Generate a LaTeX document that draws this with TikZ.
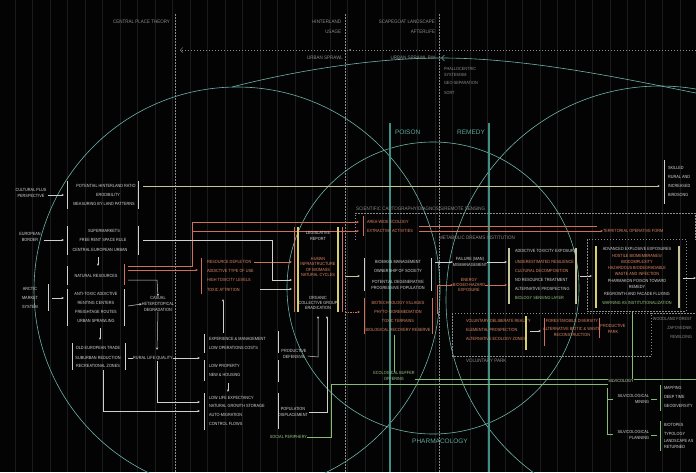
\documentclass[tikz,border=0pt]{standalone}
\usepackage{fontspec}
\setmainfont{Liberation Sans}
\newfontfamily\narrowf[FakeStretch=0.85]{Liberation Sans}
\newfontfamily\labf[FakeStretch=0.9]{Liberation Sans}
\usetikzlibrary{arrows.meta}
\definecolor{bgc}{HTML}{030303}
\definecolor{gridc}{HTML}{1B1B1B}
\definecolor{circc}{HTML}{6DB3AA}
\definecolor{poic}{HTML}{3F8F84}
\definecolor{poit}{HTML}{5FA89C}
\definecolor{wtx}{HTML}{D6D6D6}
\definecolor{wln}{HTML}{CFCFCF}
\definecolor{otx}{HTML}{E08866}
\definecolor{orgl}{HTML}{D0705A}
\definecolor{gtx}{HTML}{98C985}
\definecolor{grnl}{HTML}{86BC72}
\definecolor{gryc}{HTML}{8C8C8C}
\definecolor{khac}{HTML}{C8C49A}
\definecolor{ylwc}{HTML}{D8CF70}
\begin{document}
\begin{tikzpicture}[x=1pt,y=-1pt,
  tx/.style={inner sep=0pt,outer sep=0pt,font=\narrowf\fontsize{4.5}{5.3}\selectfont,text=wtx,align=center},
  txo/.style={tx,text=otx},
  txg/.style={tx,text=gtx},
  txy/.style={tx,text=gryc},
  lab/.style={inner sep=0pt,outer sep=0pt,font=\labf\fontsize{5}{6}\selectfont,text=gryc,align=center},
  big/.style={inner sep=0pt,outer sep=0pt,font=\fontsize{6.5}{7}\selectfont,text=poit},
  wl/.style={line width=0.5pt,draw=wln},
  ol/.style={line width=0.5pt,draw=orgl},
  gl/.style={line width=0.6pt,draw=grnl},
  kl/.style={line width=0.6pt,draw=khac},
  ar/.style={-{Stealth[length=2.6pt,width=2.2pt]}},
  wbar/.style={line width=0.9pt,draw=wln},
  obar/.style={line width=0.9pt,draw=orgl},
  ybar/.style={line width=1.1pt,draw=ylwc},
  kbar/.style={line width=1.1pt,draw=khac},
  gbar/.style={line width=0.7pt,draw=grnl},
  dsh/.style={line width=0.5pt,draw=gryc,dash pattern=on 1.5pt off 1.5pt},
  circ/.style={line width=0.6pt,draw=circc},
]
\fill[bgc] (0,0) rectangle (696,472);
\useasboundingbox (0,0) rectangle (696,472);
\foreach \i in {0,...,39} \draw[gridc,line width=0.4pt] ({15+17.5*\i},0) -- ({15+17.5*\i},472);

% dashed verticals
\draw[dsh] (175,14) -- (175,472);
\draw[dsh] (345,14) -- (345,472);
\draw[dsh] (439,14) -- (439,472);

% top labels
\node[lab,anchor=east] (cpt) at (170,22) {CENTRAL PLACE THEORY};
\node[lab,anchor=east] (hin) at (341,22) {HINTERLAND};
\node[lab,anchor=east] (usg) at (341,32) {USAGE};
\node[lab,anchor=east] (scl) at (435,22) {SCAPEGOAT LANDSCAPE};
\node[lab,anchor=east] (aft) at (435,32) {AFTERLIFE};
\coordinate (dL) at (180,50); \coordinate (dR) at (696,50);
\draw[dsh,-{Straight Barb[length=2.5pt,width=5pt]}] (dR) -- (dL);
\fill[gryc] (350,50) circle (1pt);
\node[lab,anchor=east] (us1) at (343,58) {URBAN SPRAWL};
\node[lab,anchor=east] (us2) at (435,58) {URBAN SPRAWL BW};
\node[tx,anchor=west,align=left,text=gryc] (phal) at (444,72) {PHALLOCENTRIC\\SYSTEMISM};
\node[tx,anchor=west,text=gryc] (geo) at (444,83) {GEO-SEPARATION};
\node[tx,anchor=west,text=gryc] (sort) at (444,93) {SORT};

% circles and arcs
\draw[circ] (237,290) circle (203pt);
\draw[circ] (433,288) circle (146pt);
\draw[circ] (660,300) circle (214pt);
\coordinate (apex) at (441,58);
\coordinate (arcL) at (232,87);
\coordinate (arcR) at (696,93);
\draw[circ] (apex) .. controls (370,58) and (290,72) .. (arcL);
\draw[circ,-{Straight Barb[length=3pt,width=6pt]}] (arcR) .. controls (630,80) and (530,58) .. (apex);

% poison / remedy
\coordinate (pt) at (390,123); \coordinate (pb) at (390,472);
\draw[poic,line width=1.2pt] (pt) -- (pb);
\node[big,anchor=west] (poison) at (395,132) {POISON};
\coordinate (rt) at (489,123); \coordinate (rb) at (489,472);
\draw[poic,line width=1.2pt] (rt) -- (rb);
\node[big,anchor=east] (remedy) at (485,132) {REMEDY};
\node[big] (pharm) at (440,441) {PHARMACOLOGY};

% khaki main line
\coordinate (k0) at (143,186); \coordinate (k1) at (660,186);
\draw[kl,ar] (k0) -- (k1);
\draw[wbar] (664,160) -- (664,204);
\node[tx,anchor=west] (rb1) at (668,168) {SKILLED};
\node[tx,anchor=west] (rb2) at (668,177) {RURAL AND};
\node[tx,anchor=west] (rb3) at (668,186) {INCREASED};
\node[tx,anchor=west] (rb4) at (668,195) {BIRDSONG};

% ---- L1
\node[tx] (cpp) at (31,193) {CULTURAL PLUS\\PERSPECTIVE};
\coordinate (l1in) at (64,195);
\draw[wl,ar] (cpp.east) ++(2,2) -- (l1in);
\draw[wbar] (67,181) -- (67,209);
\draw[wbar] (138,181) -- (138,209);
\node[tx] (l1a) at (106,186) {POTENTIAL HINTERLAND RATIO};
\node[tx] (l1b) at (108,195) {ERODIBILITY};
\node[tx] (l1c) at (104,204) {MEASURING BY LAND PATTERNS};

% ---- L2
\node[tx] (eub) at (30,237) {EUROPEAN\\BORDER};
\coordinate (l2in) at (64,240);
\draw[wl,ar] (eub.east) ++(3,3) -- (l2in);
\draw[wbar] (67,226) -- (67,255);
\draw[wbar] (138,226) -- (138,255);
\node[tx] (l2a) at (104,231) {SUPERMARKETS};
\node[tx] (l2b) at (103,240) {FREE RENT SPACE RULE};
\node[tx] (l2c) at (100,250) {CENTRAL EUROPEAN URBAN};
\coordinate (l2d) at (98,257); \coordinate (l3u) at (98,266);
\draw[wl,ar] (l2d) -- (l3u);

% ---- L3
\node[tx] (ams) at (30,298) {ARCTIC\\[3.5pt]MARKET\\[3.5pt]SYSTEM};
\draw[wl] (48,284) -- (48,311);
\coordinate (amsa) at (52,298); \coordinate (l3in) at (64,298);
\draw[wl,ar] (amsa) -- (l3in);
\draw[wbar] (67,266) -- (67,285);
\draw[wbar] (67,289) -- (67,326);
\draw[obar] (124,264) -- (124,285);
\draw[wbar] (124,289) -- (124,326);
\node[tx] (l3a) at (96,276) {NATURAL RESOURCES};
\node[tx] (l3b) at (96,294) {ANTI-TOXIC ADDICTIVE};
\node[tx] (l3c) at (96,303) {RENTING CENTERS};
\node[tx] (l3d) at (96,312) {FREIGHTAGE ROUTES};
\node[tx] (l3e) at (96,321) {URBAN SPRAWLING};
\node[tx] (cas) at (158,304) {CASUAL\\[0.8pt]HETEROTOPICAL\\[0.8pt]DEGRADATION};
\draw[wl,ar] (128,280) -- (157,280) -- (cas.north);
\draw[wl,ar] (128,306) -- (cas.west);
\coordinate (casd) at (157,350);
\draw[wl,ar] (cas.south) -- (casd);
\coordinate (l3d1) at (100,328); \coordinate (l4u) at (100,340);
\draw[wl,ar] (l3d1) -- (l4u);

% ---- L4
\draw[wbar] (72,343) -- (72,370);
\draw[wbar] (125,343) -- (125,370);
\node[tx] (l4a) at (98,348) {OLD EUROPEAN TRADE};
\node[tx] (l4b) at (98,358) {SUBURBAN REDUCTION};
\node[tx] (l4c) at (98,366) {RECREATIONAL ZONES};
\node[tx] (rlq) at (153,358) {RURAL LIFE QUALITY};
\coordinate (m1in) at (200,358);
\draw[wl] (128,358) -- (rlq.west);
\draw[wl,ar] (rlq.east) -- (m1in);
\coordinate (m1in2) at (200,402); \coordinate (m1in3) at (200,411);
\draw[wl,ar] (157,361) -- (157,402) -- (m1in2);
\draw[wl,ar] (103,370) -- (103,411) -- (m1in3);

% ---- M1
\draw[wbar] (204,334) -- (204,353);
\draw[wbar] (204,360) -- (204,381);
\draw[wbar] (204,393) -- (204,430);
\draw[wbar] (278,331) -- (278,353);
\draw[wbar] (278,360) -- (278,382);
\draw[wbar] (278,393) -- (278,429);
\node[tx,anchor=west] (m1a) at (209,339) {EXPERIENCE \& MANAGEMENT};
\node[tx,anchor=west] (m1b) at (209,348) {LOW OPERATIONS COSTS};
\node[tx,anchor=west] (m1c) at (209,366) {LOW PROPERTY};
\node[tx,anchor=west] (m1d) at (209,375) {NEW \& HOUSING};
\node[tx,anchor=west] (m1e) at (209,398) {LOW LIFE EXPECTANCY};
\node[tx,anchor=west] (m1f) at (209,406) {NATURAL GROWTH STORAGE};
\node[tx,anchor=west] (m1g) at (209,415) {AUTO-MIGRATION};
\node[tx,anchor=west] (m1h) at (209,424) {CONTROL FLOWS};
\coordinate (m1up0) at (223,333); \coordinate (m1up1) at (223,299);
\draw[wl,ar] (m1up0) -- (m1up1);
\coordinate (m1dn0) at (228,383); \coordinate (m1dn1) at (228,392);
\draw[wl,ar] (m1dn0) -- (m1dn1);

% ---- M2 (orange)
\draw[obar] (201,258) -- (201,294);
\node[txo,anchor=west] (m2a) at (207,262) {RESOURCE DEPLETION};
\node[txo,anchor=west] (m2b) at (207,271) {ADDICTIVE TYPE OF USE};
\node[txo,anchor=west] (m2c) at (207,280) {HIGH TOXICITY LEVELS};
\node[txo,anchor=west] (m2d) at (207,290) {TOXIC ATTRITION};
\coordinate (m2in) at (198,270);
\draw[ol,ar] (128,270) -- (m2in);
\coordinate (areaA) at (359,222); \coordinate (areaB) at (359,231);
\draw[ol,ar] (128,266) -- (192,266) -- (192,222) -- (areaA);
\draw[ol,ar] (192,231) -- (areaB);
\coordinate (dbL1) at (292,262); \coordinate (dbL2) at (292,289); \coordinate (dbL3) at (292,280);
\draw[ol,ar] (m2a.east) ++(3,0) -- (dbL1);
\draw[wl,ar] (260,289) -- (dbL2);
\draw[wl,ar] (143,240) -- (272,240) -- (272,280) -- (dbL3);

% ---- double bars block
\draw[obar] (294,227) -- (294,312);
\draw[ybar] (298,227) -- (298,312);
\draw[ybar] (338,227) -- (338,312);
\draw[obar] (342,227) -- (342,312);
\node[tx] (leg) at (318,236) {LEGISLATIVE\\REPORT};
\node[txo] (hum) at (318,267) {HUMAN\\INFRASTRUCTURE\\OF BIOMASS\\NATURAL CYCLES};
\node[tx] (org) at (318,303) {ORGANIC\\COLLECTIVE GROUP\\ERADICATION};
\node[tx] (prd) at (294,354) {PRODUCTIVE\\DEFENSIVE};
\node[tx] (pop) at (293,412) {POPULATION\\DISPLACEMENT};
\coordinate (orgb1) at (318,316); \coordinate (orgb2) at (327,316);
\draw[wl,ar] (prd.east) ++(1,2) -- (318,357) -- (orgb1);
\draw[wl,ar] (pop.east) ++(1,0) -- (327,412) -- (orgb2);
\coordinate (p1in) at (360,276); \coordinate (p2in) at (360,312);
\draw[kl,ar] (345,276) -- (p1in);
\draw[ol,ar,dash pattern=on 1.5pt off 1pt] (345,312) -- (p2in);

% ---- scientific cartography box
\draw[dsh] (355,240) -- (355,213) -- (695,213) -- (695,240);
\node[lab,anchor=west] (sci) at (356,209) {SCIENTIFIC CARTOGRAPHY/DIAGNOSIS/REMOTE SENSING};
\draw[obar] (363,216) -- (363,236);
\node[txo,anchor=west] (ar1) at (367,222) {AREA-WIDE ECOLOGY};
\node[txo,anchor=west] (ar2) at (367,231) {EXTRACTIVE ACTIVITIES};
\node[txo,anchor=west] (ter) at (603,231) {TERRITORIAL OPERATIVE FORM};
\draw[ol] (419,226) -- (597,226);
\draw[ol,ar] (419,231) -- (ter.west);
\node[lab] (met) at (477,238) {METABOLIC DREAMS INSTITUTION};

% ---- P1 / P2
\draw[wbar] (364,258) -- (364,291);
\draw[wbar] (431,258) -- (431,291);
\node[tx] (p1a) at (398,262) {BIOMASS MANAGEMENT};
\node[tx] (p1b) at (398,271) {OWNERSHIP OF SOCIETY};
\node[tx] (p1c) at (398,285) {POTENTIAL DEGENERATIVE\\PROGRESSIVE POPULATION};
\draw[obar] (364,298) -- (364,334);
\draw[obar] (432,298) -- (432,334);
\node[txo] (p2a) at (398,303) {BIOTECHNOLOGY VILLAGES};
\node[txo] (p2b) at (398,312) {PHYTO-BIOREMEDIATION};
\node[txo] (p2c) at (398,321) {TOXIC TERRAINS};
\node[txo] (p2d) at (398,330) {BIOLOGICAL RECOVERY RESERVE};
\node[tx] (fai) at (470,262) {FAILURE (MAN)\\MISMANAGEMENT};
\node[txo] (ene) at (469,285) {ENERGY\\BIOGEO-HAZARD\\EXPOSURE};
\coordinate (q1in1) at (507,262); \coordinate (q1in2) at (507,285);
\draw[wl,ar] (435,262) -- (fai.west);
\draw[ol,ar] (437,314) -- (437,285) -- (ene.west);
\draw[wl,ar] (fai.east) -- (q1in1);
\draw[ol,ar] (ene.east) -- (q1in2);

% ---- Q1
\draw[kbar] (509,248) -- (509,304);
\draw[kbar] (576,248) -- (576,304);
\node[tx,anchor=west] (q1a) at (515,251) {ADDICTIVE TOXICITY EXPOSURE};
\node[txo,anchor=west] (q1b) at (515,262) {UNDERESTIMATED RESILIENCE};
\node[txo,anchor=west] (q1c) at (515,271) {CULTURAL DECOMPOSITION};
\node[tx,anchor=west] (q1d) at (515,280) {NO RESOURCE TREATMENT};
\node[tx,anchor=west] (q1e) at (515,289) {ALTERNATIVE PROSPECTING};
\node[txg,anchor=west] (q1f) at (515,298) {BIOLOGY SENSING LAYER};
\coordinate (q1o) at (580,276); \coordinate (rin) at (592,276);
\draw[wl,ar] (q1o) -- (rin);

% ---- R box
\draw[dsh] (587,239) rectangle (686,311);
\draw[ybar] (596,246) -- (596,308);
\draw[kbar] (679,246) -- (679,308);
\node[tx] (ra) at (637,249) {ADVANCED EXPLOSIVE EXPOSURES};
\node[txo] (rb) at (637,259) {HOSTILE BIOMEMBRANES/\\BIOCOMPLEXITY};
\node[txo] (rc) at (637,271) {HAZARDOUS BIODEGRADABLE\\WASTE AND INFECTION};
\node[tx] (rd) at (637,284) {PHARMAKON POISON TOWARD\\REMEDY};
\node[tx] (re) at (637,294) {REGROWTH AND FACADE FLUXING};
\node[txg] (rf) at (637,303) {WARNING AS INSTITUTIONALIZATION};
\coordinate (ro) at (683,278); \coordinate (rout) at (696,278);
\draw[wl,ar] (ro) -- (rout);

% ---- voluntary park
\draw[dsh] (452,313) rectangle (651,356);
\node[lab,anchor=west] (vp) at (466,361) {VOLUNTARY PARK};
\node[txo,anchor=west] (v1) at (466,321) {VOLUNTARY DELIBERATE REALITY};
\node[txo,anchor=west] (v2) at (466,330) {ELEMENTAL PROSPECTION};
\node[txo,anchor=west] (v3) at (466,339) {ALTERNATIVE ECOLOGY ZONES};
\draw[ybar] (526,316) -- (526,350);
\coordinate (va0) at (530,331); \coordinate (va1) at (541,331);
\draw[wl,ar] (va0) -- (va1);
\draw[obar] (544,318) -- (544,346);
\node[txo] (v4) at (572,321) {FOREST/MOBILE DIVERSITY};
\node[txo] (v5) at (572,332) {ALTERNATIVE BIOTIC \& WASTE\\RECONSTRUCTION};
\draw[obar] (599,318) -- (599,338);
\node[txo] (v6) at (613,329) {PRODUCTIVE\\PARK};
\draw[dsh] (651,313) -- (700,313);
\node[txy,anchor=east] (w1) at (692,319) {WOODLAND FOREST};
\node[txy,anchor=east] (w2) at (692,328) {ZAPOVEDNIK};
\node[txy,anchor=east] (w3) at (692,337) {REWILDING};

% ---- green structure
\coordinate (gv0) at (632,311); \coordinate (gv1) at (632,379);
\draw[gl] (gv0) -- (gv1);
\node[txg] (eco) at (394,376) {ECOLOGICAL BUFFER\\OFFERING};
\coordinate (ecot) at (394,335);
\draw[gl] (ecot) -- (eco.north);
\node[tx,text=gtx!60!white] (sil) at (621,381) {SILVICOLOGY};
\draw[gl] (331,384) -- (sil.west |- 0,384);
\draw[gl] (eco.east |- 0,379) -- (sil.west |- 0,379);
\coordinate (silr) at (696,379);
\draw[gl] (sil.east |- 0,379) -- (silr);
\node[txg,anchor=east] (soc) at (307,437) {SOCIAL PERIPHERY};
\draw[gl] (soc.east) -- (331,437) -- (331,384);
\draw[gl] (607,388) -- (607,434);
\node[tx,anchor=east,align=right] (smin) at (649,399) {SILVICOLOGICAL\\MINING};
\node[tx,anchor=east,align=right] (spla) at (649,435) {SILVICOLOGICAL\\PLANNING};
\draw[gl] (607,399) -- (613,399);
\draw[gl] (607,434) -- (613,434);
\draw[gl] (smin.east) ++(2,0) -- (657,399);
\draw[gl] (spla.east) ++(2,0) -- (657,435);
\draw[gbar] (660,385) -- (660,411);
\draw[gbar] (660,421) -- (660,451);
\node[tx,anchor=west] (s1) at (664,388) {MAPPING};
\node[tx,anchor=west] (s2) at (664,397) {DEEP TIME};
\node[tx,anchor=west] (s3) at (664,406) {GEODIVERSITY};
\node[tx,anchor=west] (s4) at (664,425) {BIOTOPES};
\node[tx,anchor=west] (s5) at (664,434) {TYPOLOGY};
\node[tx,anchor=west,align=left] (s6) at (664,444) {LANDSCAPE AS\\RETURNED};
\end{tikzpicture}
\end{document}
